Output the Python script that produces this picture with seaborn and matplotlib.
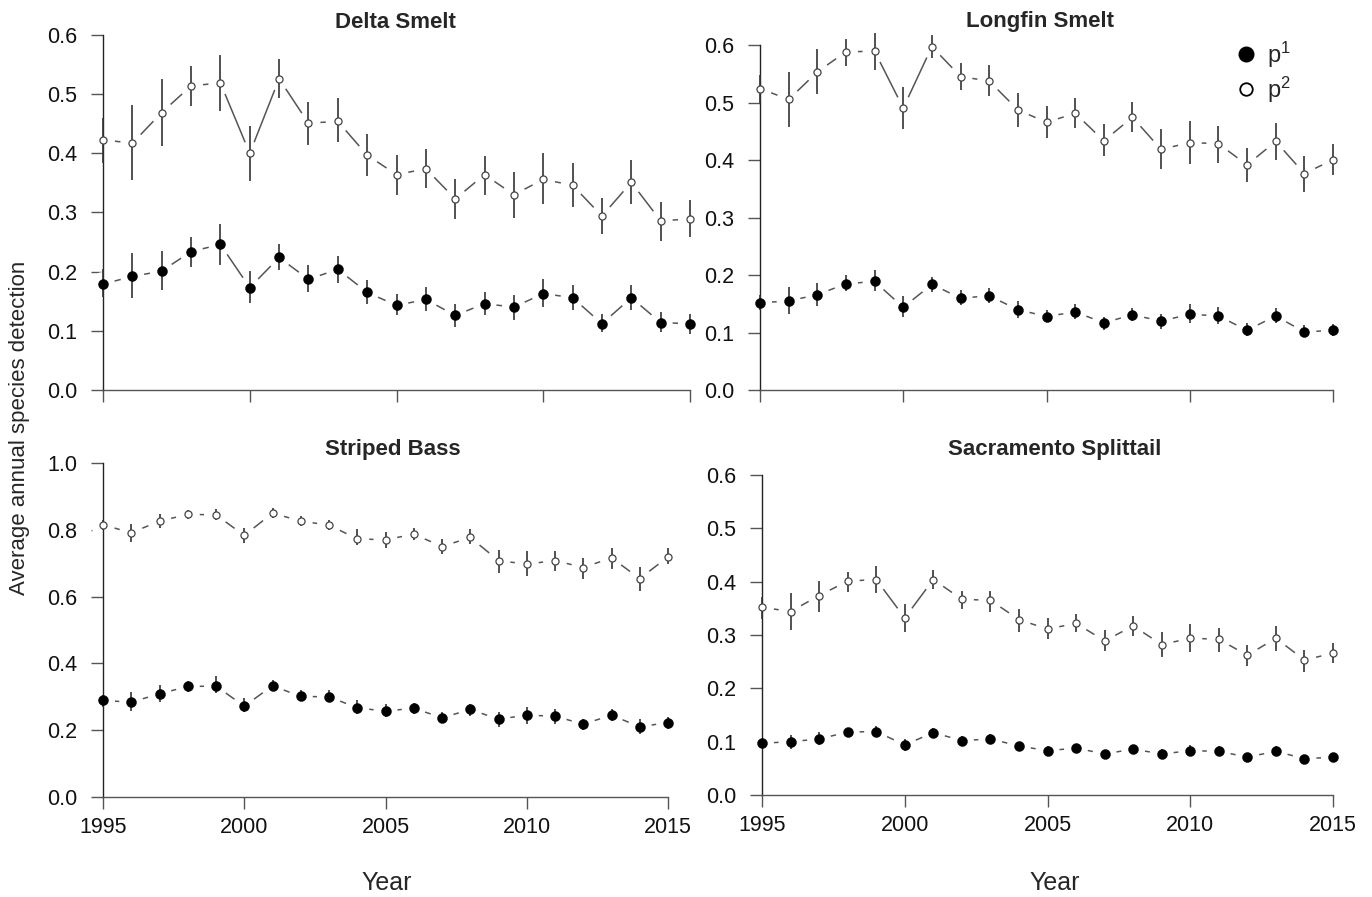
import matplotlib
matplotlib.use('Agg')
import matplotlib.pyplot as plt
import seaborn as sns
import pandas as pd
from matplotlib.lines import Line2D

years = list(range(1995, 2016))

# ---------------- Delta Smelt ----------------
ds_p1 = [0.179, 0.192, 0.201, 0.234, 0.246, 0.173, 0.224, 0.187, 0.204, 0.165, 0.143,
         0.153, 0.126, 0.146, 0.140, 0.163, 0.156, 0.112, 0.156, 0.114, 0.112]
ds_p1_lo = [0.157, 0.155, 0.169, 0.208, 0.211, 0.147, 0.203, 0.166, 0.180, 0.146, 0.126,
            0.134, 0.107, 0.126, 0.119, 0.140, 0.135, 0.098, 0.135, 0.098, 0.095]
ds_p1_hi = [0.204, 0.231, 0.235, 0.259, 0.280, 0.201, 0.247, 0.211, 0.227, 0.186, 0.162,
            0.174, 0.145, 0.165, 0.160, 0.187, 0.178, 0.128, 0.177, 0.132, 0.129]
ds_p2 = [0.423, 0.417, 0.469, 0.514, 0.519, 0.400, 0.526, 0.451, 0.454, 0.397, 0.364,
         0.374, 0.323, 0.364, 0.330, 0.356, 0.346, 0.294, 0.351, 0.286, 0.289]
ds_p2_lo = [0.384, 0.355, 0.413, 0.480, 0.471, 0.354, 0.493, 0.414, 0.419, 0.361, 0.330,
            0.341, 0.289, 0.329, 0.290, 0.314, 0.310, 0.263, 0.315, 0.252, 0.258]
ds_p2_hi = [0.460, 0.481, 0.525, 0.548, 0.566, 0.446, 0.559, 0.487, 0.493, 0.433, 0.398,
            0.407, 0.356, 0.396, 0.368, 0.401, 0.384, 0.324, 0.388, 0.318, 0.321]

# ---------------- Longfin Smelt ----------------
lf_p1 = [0.152, 0.155, 0.166, 0.185, 0.189, 0.144, 0.184, 0.160, 0.164, 0.140, 0.128,
         0.136, 0.117, 0.131, 0.120, 0.132, 0.129, 0.104, 0.129, 0.101, 0.104]
lf_p1_lo = [0.140, 0.133, 0.146, 0.172, 0.172, 0.127, 0.171, 0.148, 0.152, 0.126, 0.119,
            0.123, 0.104, 0.120, 0.107, 0.116, 0.115, 0.094, 0.116, 0.093, 0.094]
lf_p1_hi = [0.165, 0.179, 0.186, 0.201, 0.209, 0.164, 0.197, 0.174, 0.178, 0.155, 0.140,
            0.149, 0.128, 0.142, 0.133, 0.149, 0.144, 0.116, 0.142, 0.113, 0.115]
lf_p2 = [0.525, 0.506, 0.554, 0.589, 0.590, 0.491, 0.598, 0.546, 0.538, 0.488, 0.466,
         0.482, 0.434, 0.475, 0.419, 0.431, 0.429, 0.392, 0.433, 0.377, 0.401]
lf_p2_lo = [0.500, 0.458, 0.516, 0.565, 0.558, 0.454, 0.578, 0.522, 0.512, 0.458, 0.439,
            0.457, 0.407, 0.449, 0.385, 0.394, 0.396, 0.363, 0.400, 0.345, 0.374]
lf_p2_hi = [0.548, 0.553, 0.594, 0.611, 0.622, 0.528, 0.619, 0.569, 0.566, 0.518, 0.494,
            0.508, 0.463, 0.501, 0.454, 0.468, 0.460, 0.421, 0.465, 0.408, 0.428]

# ---------------- Striped Bass ----------------
sb_p1 = [0.289, 0.284, 0.309, 0.331, 0.332, 0.272, 0.333, 0.301, 0.300, 0.267, 0.257,
         0.266, 0.237, 0.262, 0.233, 0.245, 0.242, 0.218, 0.245, 0.210, 0.223]
sb_p1_lo = [0.270, 0.257, 0.283, 0.314, 0.311, 0.253, 0.319, 0.286, 0.284, 0.250, 0.240,
            0.250, 0.222, 0.244, 0.210, 0.220, 0.220, 0.202, 0.229, 0.188, 0.205]
sb_p1_hi = [0.305, 0.314, 0.336, 0.346, 0.361, 0.297, 0.349, 0.319, 0.319, 0.289, 0.277,
            0.281, 0.254, 0.279, 0.254, 0.269, 0.263, 0.235, 0.263, 0.233, 0.240]
sb_p2 = [0.815, 0.791, 0.826, 0.846, 0.845, 0.783, 0.850, 0.826, 0.814, 0.773, 0.770,
         0.787, 0.750, 0.777, 0.708, 0.697, 0.708, 0.687, 0.716, 0.654, 0.719]
sb_p2_lo = [0.800, 0.763, 0.806, 0.832, 0.828, 0.760, 0.835, 0.810, 0.798, 0.753, 0.746,
            0.768, 0.729, 0.756, 0.671, 0.661, 0.677, 0.654, 0.684, 0.616, 0.699]
sb_p2_hi = [0.830, 0.818, 0.846, 0.860, 0.863, 0.806, 0.865, 0.840, 0.830, 0.802, 0.792,
            0.806, 0.773, 0.801, 0.739, 0.737, 0.736, 0.717, 0.746, 0.689, 0.746]

# ---------------- Sacramento Splittail ----------------
ss_p1 = [0.097, 0.100, 0.105, 0.118, 0.119, 0.094, 0.117, 0.102, 0.105, 0.092, 0.083,
         0.088, 0.077, 0.086, 0.077, 0.083, 0.082, 0.071, 0.082, 0.068, 0.071]
ss_p1_lo = [0.090, 0.087, 0.094, 0.110, 0.109, 0.082, 0.108, 0.095, 0.096, 0.083, 0.075,
            0.080, 0.069, 0.078, 0.069, 0.073, 0.073, 0.064, 0.073, 0.062, 0.064]
ss_p1_hi = [0.105, 0.112, 0.118, 0.125, 0.130, 0.105, 0.125, 0.111, 0.114, 0.100, 0.091,
            0.095, 0.085, 0.094, 0.087, 0.094, 0.091, 0.076, 0.091, 0.073, 0.076]
ss_p2 = [0.352, 0.344, 0.374, 0.401, 0.404, 0.332, 0.404, 0.367, 0.365, 0.329, 0.311,
         0.322, 0.289, 0.317, 0.282, 0.294, 0.292, 0.262, 0.294, 0.253, 0.266]
ss_p2_lo = [0.330, 0.310, 0.344, 0.381, 0.378, 0.306, 0.386, 0.348, 0.344, 0.306, 0.292,
            0.305, 0.270, 0.299, 0.258, 0.269, 0.269, 0.241, 0.270, 0.230, 0.248]
ss_p2_hi = [0.372, 0.379, 0.402, 0.418, 0.429, 0.359, 0.421, 0.383, 0.383, 0.348, 0.331,
            0.340, 0.310, 0.335, 0.306, 0.320, 0.313, 0.281, 0.317, 0.272, 0.285]

titles = ["Delta Smelt", "Longfin Smelt", "Striped Bass", "Sacramento Splittail"]
xticks = [1995, 2000, 2005, 2010, 2015]
legend_labels = [r"$\mathregular{p^1}$", r"$\mathregular{p^2}$"]
y_label = "Average annual species detection"
x_label = "Year"

sns.set_style("ticks")
plt.rcParams['font.family'] = ['Liberation Sans', 'DejaVu Sans']
plt.rcParams['mathtext.fontset'] = 'custom'
plt.rcParams['mathtext.rm'] = 'Liberation Sans'

W, H = 1372, 897
fig = plt.figure(figsize=(W / 100, H / 100), dpi=100)


def px_axes(x0, x1, yb, yt):
    return fig.add_axes([x0 / W, 1 - yb / H, (x1 - x0) / W, (yb - yt) / H])


LINE_C = '#555555'
ERR_C = '#333333'

panels = [
    dict(box=(103, 690, 390, 35), ymax=0.6, yt=[0, .1, .2, .3, .4, .5, .6],
         fmt="{:.1f}", data=(ds_p1, ds_p1_lo, ds_p1_hi, ds_p2, ds_p2_lo, ds_p2_hi),
         title_xy=(395, 22), labels=False),
    dict(box=(760, 1333, 390, 45.5), ymax=0.6, yt=[0, .1, .2, .3, .4, .5, .6],
         fmt="{:.1f}", data=(lf_p1, lf_p1_lo, lf_p1_hi, lf_p2, lf_p2_lo, lf_p2_hi),
         title_xy=(1040, 22), labels=False),
    dict(box=(103, 668, 797, 463), ymax=1.0, yt=[0, .2, .4, .6, .8, 1.0],
         fmt="{:.1f}", data=(sb_p1, sb_p1_lo, sb_p1_hi, sb_p2, sb_p2_lo, sb_p2_hi),
         title_xy=(393, 449), labels=True),
    dict(box=(762, 1333, 795, 475), ymax=0.6, yt=[0, .1, .2, .3, .4, .5, .6],
         fmt="{:.1f}", data=(ss_p1, ss_p1_lo, ss_p1_hi, ss_p2, ss_p2_lo, ss_p2_hi),
         title_xy=(1055, 449), labels=True),
]

axes = []
for i, p in enumerate(panels):
    ax = px_axes(*p['box'])
    axes.append(ax)
    p1, p1lo, p1hi, p2, p2lo, p2hi = p['data']
    df = pd.DataFrame({'year': years, 'p1': p1, 'p1lo': p1lo, 'p1hi': p1hi,
                       'p2': p2, 'p2lo': p2lo, 'p2hi': p2hi})
    # connecting lines
    for col in ['p1', 'p2']:
        sns.lineplot(data=df, x='year', y=col, ax=ax, color=LINE_C, lw=1.1,
                     estimator=None, zorder=2, clip_on=False, legend=False)
    # white gaps around points (R type="b" look)
    for col in ['p1', 'p2']:
        sns.scatterplot(data=df, x='year', y=col, ax=ax, s=300, color='white',
                        edgecolor='none', linewidth=0, zorder=2.2, clip_on=False,
                        legend=False)
    # error bars
    for col in ['p1', 'p2']:
        ax.vlines(df['year'], df[col + 'lo'], df[col + 'hi'], colors=ERR_C,
                  lw=1.2, zorder=3, clip_on=False)
    # markers
    sns.scatterplot(data=df, x='year', y='p2', ax=ax, s=26, facecolor='white',
                    edgecolor='#444444', linewidth=0.9, zorder=4, clip_on=False,
                    legend=False)
    sns.scatterplot(data=df, x='year', y='p1', ax=ax, s=52, color='black',
                    edgecolor='black', linewidth=0.3, zorder=4, clip_on=False,
                    legend=False)

    ax.set_xlim(1995, 2015)
    ax.set_ylim(0, p['ymax'])
    ax.set_xticks(xticks)
    ax.set_yticks(p['yt'])
    ax.set_yticklabels([p['fmt'].format(v) for v in p['yt']])
    ax.set_xticklabels([str(v) for v in xticks])
    ax.set_xlabel('')
    ax.set_ylabel('')
    for s in ['top', 'right']:
        ax.spines[s].set_visible(False)
    ax.spines['left'].set_color('#222222')
    ax.spines['bottom'].set_color('#555555')
    ax.spines['left'].set_linewidth(1.0)
    ax.spines['bottom'].set_linewidth(1.0)
    ax.tick_params(axis='y', direction='out', length=8.6, width=1.0,
                   color='#555555', labelsize=15.5, pad=10, labelcolor='#111111')
    ax.tick_params(axis='x', direction='out', length=8.6, width=1.0,
                   color='#555555', labelsize=15.5, pad=6, labelcolor='#111111',
                   labelbottom=p['labels'])
    ax.set_facecolor('none')
    fig.text(p['title_xy'][0] / W, 1 - p['title_xy'][1] / H, titles[i],
             ha='center', va='center', fontsize=16, fontweight='bold')

# legend on Longfin Smelt panel
handles = [Line2D([], [], ls='none', marker='o', ms=10.5, mfc='black', mec='black'),
           Line2D([], [], ls='none', marker='o', ms=9, mfc='white', mec='black', mew=1.3)]
fig.legend(handles, legend_labels, loc='upper left',
           bbox_to_anchor=(1222 / W, 1 - 30 / H), frameon=False, fontsize=17,
           handletextpad=0.3, labelspacing=0.2, handlelength=1.2, borderaxespad=0)

fig.text(20 / W, 1 - 428 / H, y_label, rotation=90, ha='center', va='center',
         fontsize=16)
fig.text(387 / W, 1 - 883 / H, x_label, ha='center', va='center', fontsize=18)
fig.text(1055 / W, 1 - 883 / H, x_label, ha='center', va='center', fontsize=18)

fig.savefig('out.png', dpi=100, facecolor='white')
